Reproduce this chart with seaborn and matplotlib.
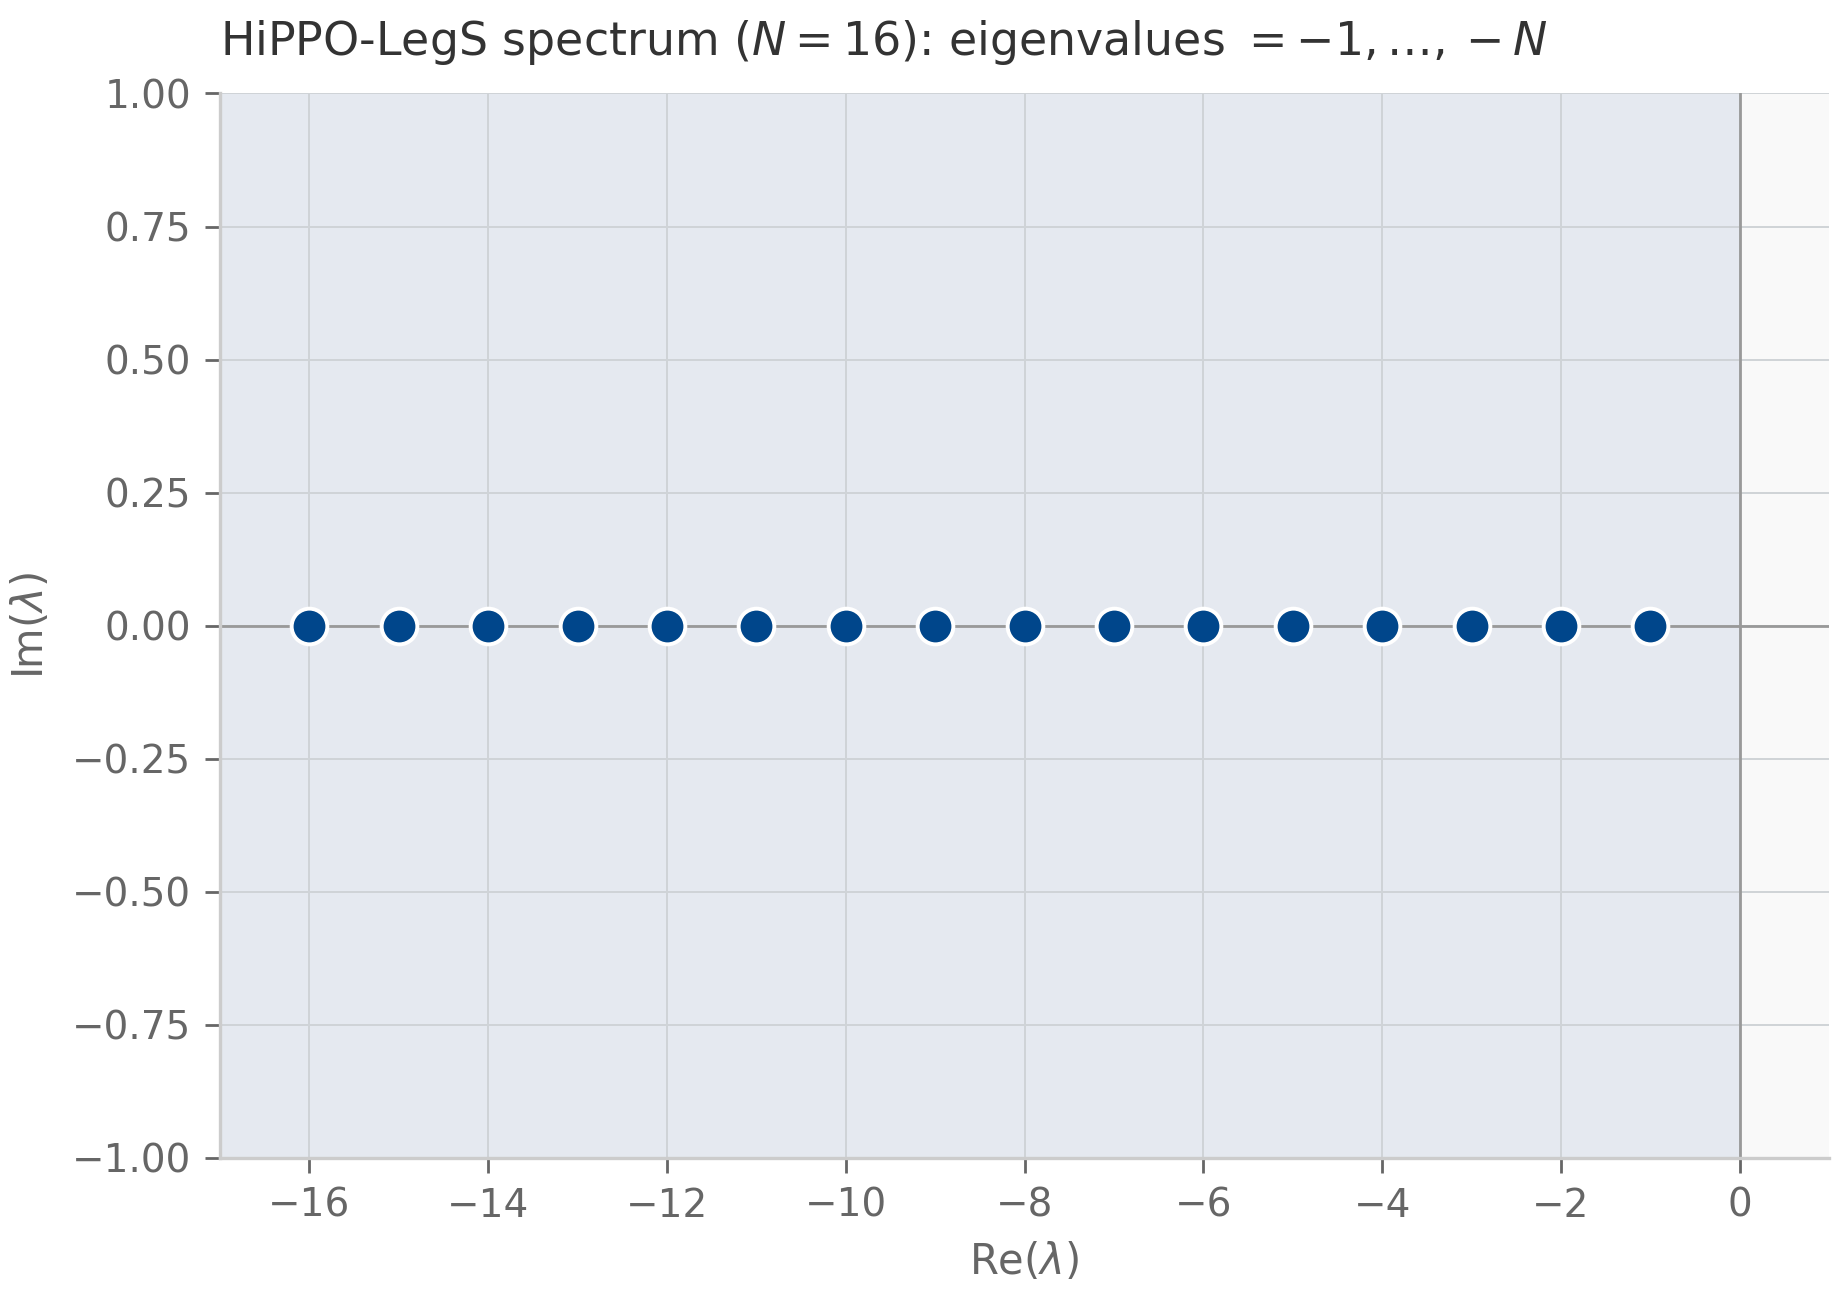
import numpy as np
import pandas as pd
import matplotlib
matplotlib.use("Agg")
import matplotlib.pyplot as plt
import seaborn as sns

# Data: HiPPO-LegS eigenvalues for N = 16
N = 16
re_vals = [-16, -15, -14, -13, -12, -11, -10, -9, -8, -7, -6, -5, -4, -3, -2, -1]
im_vals = [0.0] * 16
x_ticks = [-16, -14, -12, -10, -8, -6, -4, -2, 0]
y_ticks = [1.00, 0.75, 0.50, 0.25, 0.00, -0.25, -0.50, -0.75, -1.00]

df = pd.DataFrame({"re": re_vals, "im": im_vals})

sns.set_theme(style="ticks")
plt.rcParams["font.family"] = ["DejaVu Sans"]

fig = plt.figure(figsize=(9.21, 6.49), dpi=200)
ax = fig.add_axes([0.1194, 0.108, 0.8736, 0.820])
ax.set_facecolor("#f9f9f9")

ax.axvspan(-17, 0, color="#e5e9f0", zorder=0, lw=0)
ax.grid(True, color="#cfd3d7", lw=0.7, zorder=1)
ax.set_axisbelow(True)
ax.axhline(0, color="#999999", lw=1.0, zorder=2)
ax.axvline(0, color="#999999", lw=1.0, zorder=2)

sns.scatterplot(data=df, x="re", y="im", ax=ax, s=165, color="#00468b",
                edgecolor="white", linewidth=1.4, zorder=3, legend=False)

ax.set_xlim(-17, 1)
ax.set_ylim(-1, 1)
ax.set_xticks(x_ticks)
ax.set_yticks(y_ticks)
ax.set_yticklabels([f"{v:.2f}".replace("-", "\u2212") for v in y_ticks])

for s in ["top", "right"]:
    ax.spines[s].set_visible(False)
for s in ["left", "bottom"]:
    ax.spines[s].set_color("#cccccc")
    ax.spines[s].set_linewidth(1.2)

ax.tick_params(axis="both", colors="#666666", labelsize=14, length=5.4, width=1.0, pad=5)
ax.set_xlabel(r"Re($\lambda$)", fontsize=15, color="#666666", labelpad=6)
ax.set_ylabel(r"Im($\lambda$)", fontsize=15, color="#666666", labelpad=7)
ax.set_title(r"HiPPO-LegS spectrum ($N=16$): eigenvalues $=-1,\ldots,-N$",
             loc="left", fontsize=16.5, color="#333333", pad=14)

fig.savefig("out.png", dpi=200)
